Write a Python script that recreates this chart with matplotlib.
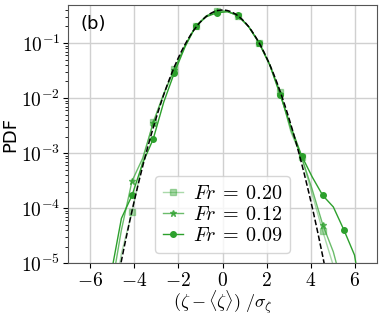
import numpy as np
import matplotlib
matplotlib.use('Agg')
import matplotlib.pyplot as plt
from matplotlib.ticker import FuncFormatter

plt.rcParams['mathtext.fontset'] = 'cm'
plt.rcParams['font.family'] = 'DejaVu Sans'

# normalised elevation grid (bin centres) and PDF values per Froude number
x_bins = [-5.54, -5.06, -4.58, -4.10, -3.62, -3.14, -2.66, -2.18, -1.70, -1.22,
          -0.74, -0.26, 0.22, 0.70, 1.18, 1.66, 2.14, 2.62, 3.10, 3.58,
          4.06, 4.54, 5.02, 5.50, 5.98, 6.46]

pdf_fr020 = [1e-8, 1e-6, 1.5e-5, 8.5e-5, 7e-4, 3.7e-3, 1.2e-2, 3.4e-2, 9.0e-2, 0.20,
             0.31, 0.39, 0.38, 0.31, 0.20, 0.10, 4.1e-2, 1.3e-2, 2.4e-3, 8.5e-4,
             1.8e-4, 3.8e-5, 9e-6, 2e-6, 1e-7, 1e-8]
pdf_fr012 = [1e-8, 3e-6, 4e-5, 3.1e-4, 8e-4, 3.5e-3, 1.2e-2, 3.3e-2, 9.0e-2, 0.20,
             0.31, 0.38, 0.38, 0.31, 0.20, 0.10, 4.0e-2, 1.2e-2, 2.6e-3, 8.5e-4,
             2.2e-4, 5e-5, 1.6e-5, 3e-6, 1e-7, 1e-8]
pdf_fr009 = [1e-7, 6e-6, 6.5e-5, 1.7e-4, 6.5e-4, 1.8e-3, 8.5e-3, 2.9e-2, 8.5e-2, 0.20,
             0.30, 0.355, 0.37, 0.32, 0.20, 0.10, 4.0e-2, 1.12e-2, 3.0e-3, 9e-4,
             3.7e-4, 1.7e-4, 1.05e-4, 4e-5, 1.4e-5, 1e-6]

labels = [r'$Fr\:=\:0.20$', r'$Fr\:=\:0.12$', r'$Fr\:=\:0.09$']
x_ticks = [-6, -4, -2, 0, 2, 4, 6]

fig = plt.figure(figsize=(3.82, 3.17), dpi=100)
ax = fig.add_axes([0.178, 0.17, 0.809, 0.814])

green = 'tab:green'
ax.plot(x_bins, pdf_fr020, color=green, alpha=0.4, lw=1.0, marker='s', ms=4,
        markevery=(1, 2), label=labels[0])
ax.plot(x_bins, pdf_fr012, color=green, alpha=0.7, lw=1.0, marker='*', ms=5,
        markevery=(1, 2), label=labels[1])
ax.plot(x_bins, pdf_fr009, color=green, alpha=1.0, lw=1.0, marker='o', ms=4,
        markevery=(1, 2), label=labels[2])

# reference standard Gaussian
xg = np.linspace(-7, 7, 400)
ax.plot(xg, np.exp(-xg**2/2)/np.sqrt(2*np.pi), 'k--', lw=1.1)

ax.set_yscale('log')
ax.set_xlim(-7, 7)
ax.set_ylim(1e-5, 0.49)
ax.set_xticks(x_ticks)
ax.set_xticklabels([f'${v}$' for v in x_ticks])
ax.yaxis.set_major_formatter(FuncFormatter(lambda v, p: f'$10^{{{int(round(np.log10(v)))}}}$'))

ax.tick_params(labelsize=14, pad=2)
ax.set_xlabel(r'$(\zeta - \langle\zeta\rangle)\ /\sigma_\zeta$', fontsize=13, labelpad=-1)
ax.set_ylabel('PDF', fontsize=13, labelpad=1)

ax.grid(True, which='major', color='#d0d0d0', lw=1.0)
ax.set_axisbelow(True)
for s in ax.spines.values():
    s.set_color('#555555')

ax.text(0.04, 0.96, '(b)', transform=ax.transAxes, fontsize=13, va='top', ha='left')

ax.legend(loc='lower center', fontsize=14.5, handlelength=1.0, handletextpad=0.5,
          labelspacing=0.1, borderpad=0.4)

fig.savefig('out.png', dpi=100)
